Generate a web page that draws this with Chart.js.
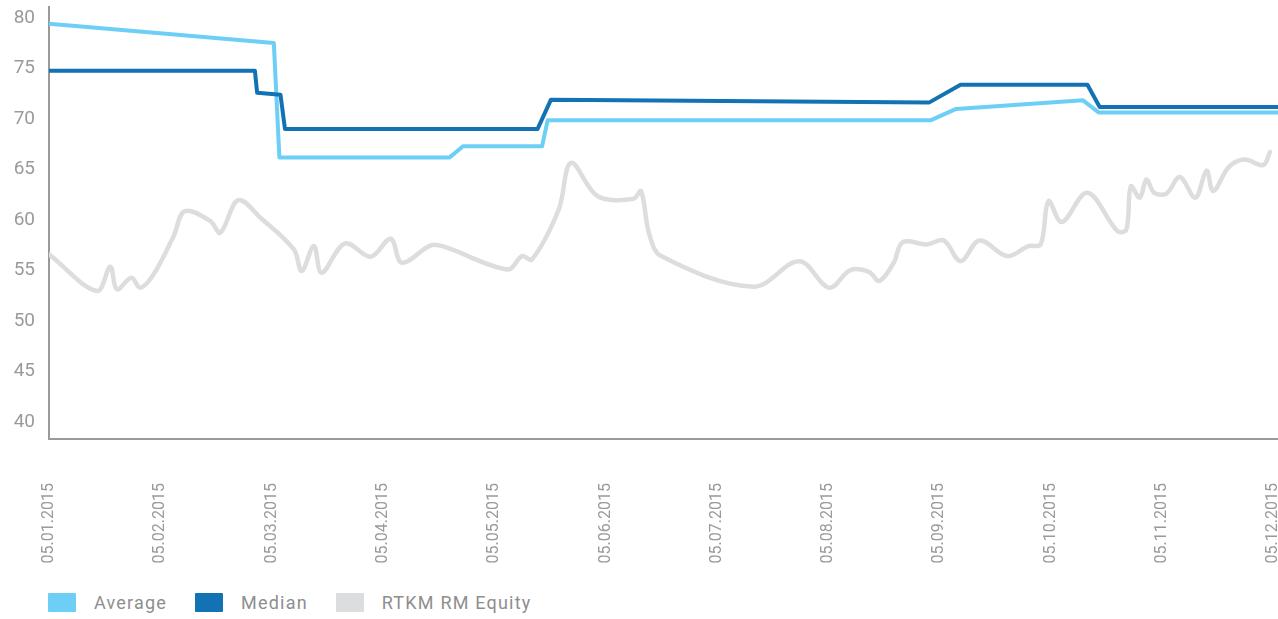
<!DOCTYPE html>
<html>
<head>
<meta charset="utf-8">
<script src="https://cdn.jsdelivr.net/npm/chart.js@4/dist/chart.umd.min.js"></script>
<style>
  html, body { margin: 0; padding: 0; background: #ffffff; overflow: hidden; }
  #wrap { position: absolute; left: 0; top: 0; width: 1278px; height: 619px; overflow: hidden; }
  #chart { position: absolute; left: 0; top: 0; }
  #legend {
    position: absolute; left: 48px; top: 593px;
    display: flex; align-items: center;
    font-family: Roboto, "Noto Sans", sans-serif; font-size: 18px; color: #8e8e8e;
    letter-spacing: 1.2px;
  }
  #legend .box { width: 28px; height: 19px; margin-right: 18px; border-radius: 1px; }
  #legend .lbl { margin-right: 28px; line-height: 19px; }
</style>
</head>
<body>
<div id="wrap">
  <canvas id="chart" width="1290" height="575"></canvas>
  <div id="legend"></div>
</div>
<script>
// x positions are in months since 05.01.2015 (axis spaces months evenly)
const monthLabels = ['05.01.2015', '05.02.2015', '05.03.2015', '05.04.2015', '05.05.2015', '05.06.2015',
  '05.07.2015', '05.08.2015', '05.09.2015', '05.10.2015', '05.11.2015', '05.12.2015']
const yTicks = [40, 45, 50, 55, 60, 65, 70, 75, 80]
const xMax = 11.15

const averageX = [0, 2.02, 2.07, 3.60, 3.72, 4.43, 4.48, 7.92, 8.15, 9.29, 9.43, 11.15]
const averageY = [79.44, 77.53, 66.2, 66.2, 67.3, 67.3, 69.87, 69.87, 71.0, 71.85, 70.66, 70.66]

const medianX = [0, 1.85, 1.87, 2.08, 2.12, 4.39, 4.51, 7.91, 8.19, 9.33, 9.44, 11.15]
const medianY = [74.78, 74.78, 72.61, 72.41, 69.02, 69.02, 71.92, 71.65, 73.4, 73.4, 71.2, 71.2]

const equityX = [0, 0.43, 0.55, 0.61, 0.74, 0.82, 0.94, 1.12, 1.22, 1.45, 1.54, 1.70, 1.90,
  2.20, 2.27, 2.38, 2.45, 2.66, 2.89, 3.07, 3.17, 3.43, 3.55, 4.12, 4.25, 4.34, 4.58, 4.69,
  4.93, 5.25, 5.32, 5.39, 5.50, 6.33, 6.74, 7.01, 7.20, 7.37, 7.46, 7.59, 7.67, 7.89, 8.04,
  8.19, 8.36, 8.61, 8.80, 8.91, 8.98, 9.10, 9.33, 9.60, 9.68, 9.72, 9.80, 9.86, 9.93, 10.04,
  10.16, 10.30, 10.40, 10.46, 10.60, 10.74, 10.91, 10.97]
const equityY = [56.59, 52.96, 55.37, 53.13, 54.28, 53.29, 54.61, 58.40, 60.87, 59.88, 58.73, 61.96, 60.22,
  57.08, 54.94, 57.41, 54.78, 57.68, 56.36, 58.14, 55.77, 57.48, 57.35, 55.10, 56.42, 56.09, 61.04, 65.66,
  62.35, 62.10, 62.85, 58.73, 56.42, 53.39, 55.92, 53.29, 55.04, 54.84, 53.95, 55.77, 57.80, 57.58, 57.97,
  55.92, 57.97, 56.42, 57.41, 57.58, 61.86, 59.80, 62.69, 58.89, 59.06, 63.34, 62.20, 64.01, 62.69, 62.62,
  64.25, 62.20, 64.90, 62.87, 65.24, 65.98, 65.44, 66.73]

const series = [
  { name: 'Average', color: '#6dcff6' },
  { name: 'Median', color: '#1272b3' },
  { name: 'RTKM RM Equity', color: '#dcddde' }
]

const toPoints = (xs, ys) => xs.map((x, i) => ({ x: x, y: ys[i] }))

const axisGrey = '#9a9a9a'
const fontFamily = 'Roboto, "Noto Sans", sans-serif'

new Chart(document.getElementById('chart'), {
  type: 'line',
  data: {
    datasets: [
      // median on top, then average, equity at the back
      { label: 'Median', data: toPoints(medianX, medianY), borderColor: '#1272b3', borderWidth: 4, order: 0, tension: 0 },
      { label: 'Average', data: toPoints(averageX, averageY), borderColor: '#6dcff6', borderWidth: 4, order: 1, tension: 0 },
      { label: 'RTKM RM Equity', data: toPoints(equityX, equityY), borderColor: '#dcddde', borderWidth: 4.5, order: 2, tension: 0.35 }
    ]
  },
  options: {
    responsive: false,
    animation: false,
    layout: { padding: { top: 7, left: 0, right: 0, bottom: 0 } },
    elements: { point: { radius: 0 }, line: { borderJoinStyle: 'round', borderCapStyle: 'round' } },
    plugins: { legend: { display: false }, tooltip: { enabled: false } },
    scales: {
      x: {
        type: 'linear',
        min: 0,
        max: xMax,
        grid: { display: false, drawTicks: false },
        border: { display: true, color: axisGrey, width: 2 },
        afterBuildTicks: (scale) => { scale.ticks = monthLabels.map((_, i) => ({ value: i })) },
        afterFit: (scale) => { scale.height = 136; scale.paddingLeft = 0; scale.paddingRight = 0 },
        ticks: {
          autoSkip: false,
          minRotation: 90,
          maxRotation: 90,
          padding: 44,
          color: axisGrey,
          font: { family: fontFamily, size: 16 },
          callback: (value, index) => monthLabels[index]
        }
      },
      y: {
        min: 38.3,
        max: 81.1,
        grid: { display: false, drawTicks: false },
        border: { display: true, color: axisGrey, width: 2 },
        afterBuildTicks: (scale) => { scale.ticks = yTicks.map(v => ({ value: v })) },
        afterFit: (scale) => { scale.width = 49; scale.paddingTop = 0; scale.paddingBottom = 0 },
        ticks: {
          padding: 14,
          color: axisGrey,
          font: { family: fontFamily, size: 19 }
        }
      }
    }
  }
})

// legend as plain html under the chart
const legend = document.getElementById('legend')
series.forEach(s => {
  const box = document.createElement('span')
  box.className = 'box'
  box.style.background = s.color
  const lbl = document.createElement('span')
  lbl.className = 'lbl'
  lbl.textContent = s.name
  legend.appendChild(box)
  legend.appendChild(lbl)
})
</script>
</body>
</html>
